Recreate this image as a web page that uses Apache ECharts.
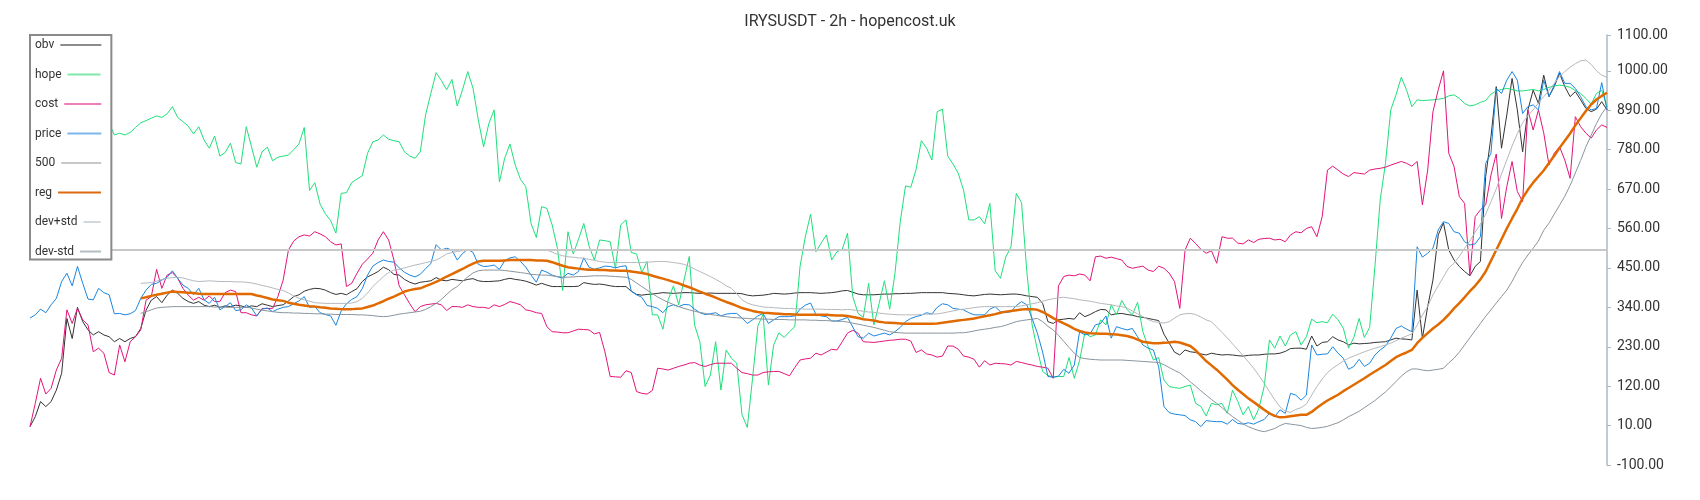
<!DOCTYPE html>
<html><head><meta charset="utf-8">
<script src="https://cdn.jsdelivr.net/npm/echarts@6/dist/echarts.min.js"></script>
<style>html,body{margin:0;padding:0;background:#fff}#c{width:1700px;height:500px}</style>
</head><body><div id="c"></div>
<script>
const titleText = 'IRYSUSDT - 2h - hopencost.uk';
const seriesNames = ['obv', 'hope', 'cost', 'price', '500', 'reg', 'dev+std', 'dev-std'];
const refLevel = 500;
const yMin = -100, yMax = 1100, yStep = 110;

const obv = [
7,35,77,63,77,109,156,309,253,340,
300,277,263,272,263,258,244,253,244,253,
258,281,332,360,370,353,374,388,379,365,
356,351,356,346,342,346,340,344,342,346,
344,340,344,342,350,346,342,345,347,358,
370,375,385,390,393,392,388,381,376,379,
375,384,392,412,425,432,440,452,445,432,
430,418,410,405,410,412,414,423,416,414,
418,416,414,418,420,414,412,412,413,414,
418,421,418,416,413,408,402,407,402,398,
398,398,398,398,399,409,406,404,405,403,
400,398,398,398,385,376,374,376,377,379,
381,380,379,380,381,381,380,379,379,380,
379,379,379,379,379,378,374,372,373,374,
376,379,378,377,378,380,381,381,381,380,
379,380,381,383,386,387,382,377,375,375,
375,376,377,377,378,378,379,379,380,381,
381,381,381,381,379,378,377,375,373,372,
374,376,377,376,375,376,377,377,375,372,
370,368,351,300,295,305,307,309,307,325,
314,320,328,334,333,319,322,323,320,318,
314,312,309,306,303,265,240,215,207,221,
216,214,210,207,212,209,207,208,207,205,
204,206,207,207,209,210,210,212,217,225,
226,226,223,260,232,242,244,258,249,244,
235,240,238,239,240,242,243,244,249,254,
252,251,249,388,254,342,416,542,576,500,
472,454,440,428,454,468,705,816,956,784,
877,979,891,774,891,946,909,988,928,956,
993,956,928,942,919,895,886,893,914,891];

const hope = [
838,845,852,848,858,865,860,872,866,870,
862,868,874,866,860,854,821,826,821,828,
842,855,861,868,874,870,880,900,870,858,
846,824,844,807,784,818,762,772,798,744,
740,844,788,731,774,787,749,759,762,765,
780,796,842,666,688,628,601,582,547,658,
660,688,698,707,770,802,807,821,809,805,
802,774,762,756,774,877,937,995,973,947,
976,902,947,998,951,863,788,853,891,690,
756,796,737,697,677,574,535,621,616,570,
505,387,551,489,530,574,511,472,528,526,
523,449,570,584,493,489,437,468,319,319,
279,361,400,347,416,482,291,244,119,151,
244,109,221,198,184,40,5,142,288,321,
123,235,269,256,272,286,454,537,600,495,
519,542,472,495,502,547,370,323,312,407,
291,351,414,335,435,579,679,675,725,805,
784,751,886,893,762,740,714,667,584,584,
593,573,630,442,421,480,509,658,632,440,
291,221,161,150,145,147,147,200,142,191,
269,258,263,305,291,347,319,359,334,319,
354,272,230,193,200,137,119,116,114,119,
123,72,63,37,72,68,72,44,109,77,
40,63,26,58,119,249,226,260,232,263,
272,235,258,307,297,300,297,321,305,282,
226,256,309,256,284,454,640,742,891,933,
982,946,900,919,917,918,919,921,923,930,
933,923,909,902,905,912,917,935,944,948,
951,948,944,944,946,948,944,948,954,958,
960,958,954,945,937,923,907,937,946,900];

const cost = [
7,72,142,98,114,165,198,333,295,337,
305,291,216,226,212,158,151,235,188,244,
258,277,360,370,446,393,430,437,421,393,
374,360,368,360,372,356,356,381,388,384,
325,325,319,316,337,337,337,370,416,500,
525,537,542,539,551,545,537,523,514,517,
398,407,435,460,475,491,528,551,528,472,
400,375,350,328,342,347,349,351,347,331,
342,342,340,347,342,340,340,337,347,342,
348,356,352,347,333,330,325,323,286,272,
271,269,269,274,279,278,277,266,270,216,
147,146,145,163,158,105,100,98,108,170,
168,165,170,175,179,184,186,179,175,180,
184,184,184,184,170,158,155,151,151,158,
160,161,161,155,149,172,193,196,198,212,
207,215,223,221,244,268,276,268,244,243,
242,244,246,248,249,251,251,246,214,221,
210,207,201,204,232,232,223,204,201,195,
173,191,179,184,183,182,179,189,186,182,
179,175,173,170,142,400,426,430,428,433,
430,414,481,483,477,480,476,472,454,449,
452,455,444,440,455,449,435,412,337,500,
533,518,502,491,498,463,537,533,533,519,
517,528,521,530,532,533,528,530,523,542,
551,548,560,565,537,593,723,734,723,712,
705,716,714,712,723,726,728,731,737,742,
747,742,734,747,626,723,886,947,1000,770,
733,649,630,430,593,612,626,709,768,588,
677,747,663,635,891,835,891,827,737,770,
788,751,700,872,844,826,812,835,849,842];

const price = [
310,319,335,325,347,365,412,435,400,454,
407,363,361,393,381,375,322,323,319,322,
331,365,388,404,407,416,424,442,421,402,
393,375,393,361,351,368,333,342,353,331,
333,347,338,316,335,338,328,335,340,342,
350,358,370,340,342,325,320,316,290,330,
350,362,370,392,430,455,465,472,468,466,
450,438,430,425,432,448,462,515,500,505,
500,472,490,502,493,460,454,455,458,446,
470,478,481,468,452,430,410,444,438,430,
425,422,435,430,440,478,452,446,450,455,
454,450,454,456,385,375,368,345,342,337,
325,342,347,342,348,347,335,325,320,322,
325,316,321,323,323,310,295,305,316,323,
295,305,314,314,314,316,335,346,352,320,
316,314,302,302,306,312,285,258,254,268,
260,264,268,263,272,284,300,309,314,318,
325,321,340,350,347,337,335,333,325,319,
319,319,335,342,328,325,328,345,356,347,
309,268,215,147,145,148,167,156,179,272,
263,266,291,295,316,254,286,281,277,281,
258,235,226,221,174,63,46,42,40,38,
26,21,7,24,22,21,21,14,27,16,
14,18,14,21,27,44,35,54,44,100,
95,81,95,235,207,209,210,230,212,198,
167,175,195,175,184,207,221,232,254,281,
288,279,272,509,480,491,505,556,579,574,
551,547,523,514,517,537,742,770,951,937,
974,998,974,881,900,905,891,974,928,960,
998,965,965,951,928,900,891,895,967,891];

const reg = [
null,null,null,null,null,null,null,null,null,null,
null,null,null,null,null,null,null,null,null,null,
null,365,368,372,375,378,381,384,383,382,
381,380,378,377,377,377,377,377,377,377,
377,377,377,373,370,366,362,360,358,353,
350,347,345,343,342,340,339,337,336,335,
335,335,336,337,341,345,351,357,364,370,
377,384,388,391,393,399,405,411,418,426,
433,440,447,455,462,468,470,470,470,470,
471,472,472,472,472,472,471,471,470,466,
461,456,452,450,448,446,445,445,444,444,
443,443,442,442,440,438,436,433,428,424,
420,416,411,407,401,396,390,384,378,373,
367,361,355,350,344,338,334,330,327,325,
324,323,322,321,321,320,319,319,319,319,
319,319,318,317,317,316,313,310,307,305,
303,300,298,297,296,295,294,294,294,294,
294,294,295,297,299,301,303,305,307,309,
312,315,318,321,325,328,330,332,334,335,
335,333,327,319,310,302,295,288,280,274,
270,268,267,266,266,265,264,262,260,256,
250,244,242,240,240,241,242,244,242,237,
232,220,205,190,178,166,152,138,123,110,
98,86,76,65,54,44,37,33,34,36,
38,40,40,48,60,70,80,88,96,106,
115,124,133,142,152,161,170,179,190,201,
208,214,221,240,255,268,281,292,305,320,
337,352,368,385,400,418,440,470,500,530,
560,588,615,645,668,688,705,722,743,763,
785,805,825,848,868,888,906,920,930,939];

const devPlus = [
null,null,null,null,null,null,null,null,null,null,
null,null,null,null,null,null,null,null,null,null,
null,407,408,409,413,418,421,423,424,422,
418,414,412,413,414,413,412,412,412,411,
411,410,408,405,401,398,394,390,387,380,
372,365,361,357,353,352,351,351,351,351,
351,352,356,365,380,398,412,426,437,444,
446,450,454,458,461,465,468,472,480,489,
493,496,498,499,500,500,500,500,500,500,
500,500,501,501,501,501,500,500,500,494,
488,484,481,480,478,477,474,471,468,466,
465,465,465,465,465,465,465,466,467,468,
468,467,465,463,460,454,447,440,433,426,
418,410,400,393,378,361,352,347,344,341,
340,339,338,337,337,336,336,335,335,335,
335,334,334,334,333,334,333,331,329,327,
326,324,322,321,320,319,319,319,319,320,
321,321,322,324,327,330,333,335,337,339,
341,342,342,342,342,342,342,342,344,347,
350,353,357,361,364,367,368,366,364,361,
359,357,354,351,349,347,344,342,338,330,
322,314,306,300,298,296,300,310,319,322,
323,320,313,305,300,285,270,255,238,222,
205,188,170,150,128,105,82,62,50,47,
55,60,70,95,119,140,158,170,180,190,
198,204,210,216,221,226,230,235,240,247,
254,260,266,290,318,342,375,400,425,450,
463,482,505,525,550,572,600,635,670,712,
751,790,825,855,875,891,910,928,945,965,
984,998,1010,1020,1028,1030,1018,1000,988,982];

const devMinus = [
null,null,null,null,null,null,null,null,null,null,
null,null,null,null,null,null,null,null,null,null,
null,323,328,333,338,340,341,342,342,342,
342,342,342,342,342,341,341,340,340,340,
340,340,338,335,332,330,328,326,325,325,
324,324,323,323,322,322,321,321,320,320,
320,320,319,319,318,317,315,314,315,318,
321,323,325,327,329,334,342,351,362,376,
389,398,412,425,436,442,444,444,444,444,
443,441,439,437,435,432,431,430,430,428,
426,424,424,425,426,426,427,428,428,428,
427,426,425,424,418,408,398,388,378,369,
361,354,348,342,337,333,329,326,323,320,
318,316,314,312,311,310,309,308,308,307,
307,306,306,306,305,305,305,305,304,304,
303,303,302,301,301,299,296,293,290,287,
284,280,276,272,270,269,268,268,268,268,
268,268,268,268,268,268,269,269,271,274,
277,279,281,284,286,290,295,300,303,305,
307,309,300,287,277,262,245,228,212,200,
197,195,194,193,193,193,193,193,192,191,
190,189,188,187,186,180,172,164,157,145,
132,120,107,95,83,72,60,47,35,25,
15,7,1,-4,-7,-3,2,10,16,14,
12,10,5,2,3,5,8,13,18,26,
35,42,50,60,70,80,92,104,118,133,
148,160,168,168,165,163,165,167,170,185,
198,215,235,255,275,295,315,333,352,370,
388,412,440,465,486,505,525,555,575,600,
625,650,680,715,750,788,820,853,880,900];

const categories = price.map((_, i) => String(i));

// styling
const lineColors = {
  'obv': '#333333', 'hope': '#1ee07a', 'cost': '#e3147a', 'price': '#1a86e0',
  '500': '#c8c8c8', 'reg': '#e06a00', 'dev+std': '#b4b9be', 'dev-std': '#8a959d'
};
const legendIconColors = {
  'obv': '#8c8c8c', 'hope': '#7fe9a8', 'cost': '#ee80b8', 'price': '#7db7ec',
  '500': '#c8c8c8', 'reg': '#db6a12', 'dev+std': '#d2d7db', 'dev-std': '#b2bcc1'
};
const legendFont = '12px Roboto';
const measureCtx = document.createElement('canvas').getContext('2d');
measureCtx.font = legendFont;
const legendRowWidth = 66, legendGap = 6;
const rich = { g: { width: legendGap, height: 2 } };
seriesNames.forEach((n, i) => {
  const w = Math.max(10, Math.round(legendRowWidth - legendGap - measureCtx.measureText(n).width));
  rich['l' + i] = { width: w, height: 2, backgroundColor: legendIconColors[n], verticalAlign: 'middle' };
});

function line(name, data, width, z) {
  return {
    name, type: 'line', data, symbol: 'none', showSymbol: false, z: z || 2,
    lineStyle: { color: lineColors[name], width },
    itemStyle: { color: lineColors[name] },
    emphasis: { disabled: true }, silent: true, animation: false
  };
}

const chart = echarts.init(document.getElementById('c'), null, { renderer: 'canvas' });
chart.setOption({
  backgroundColor: '#ffffff',
  animation: false,
  title: {
    text: titleText, left: 'center', top: 9,
    textStyle: { fontFamily: 'Roboto', fontSize: 16, fontWeight: 'normal', color: '#333' }
  },
  legend: {
    orient: 'vertical', left: 30, top: 35, align: 'left',
    icon: 'none', itemWidth: 0, itemHeight: 14, itemGap: 16.5,
    padding: [3, 10, 2, 0],
    backgroundColor: '#ffffff', borderColor: '#8a8a8a', borderWidth: 2, borderRadius: 0,
    selectedMode: false,
    textStyle: { fontFamily: 'Roboto', fontSize: 12, color: '#333', rich },
    formatter: n => n + '{g|}{l' + seriesNames.indexOf(n) + '|}',
    data: seriesNames, z: 10
  },
  grid: { left: 30, right: 93, top: 35, bottom: 35, containLabel: false },
  xAxis: { type: 'category', data: categories, boundaryGap: false, show: false },
  yAxis: {
    type: 'value', position: 'right', min: yMin, max: yMax, interval: yStep,
    splitLine: { show: false },
    axisLine: { show: true, lineStyle: { color: '#adb8c1', width: 1.5 } },
    axisTick: { show: true, length: 4, lineStyle: { color: '#adb8c1' } },
    axisLabel: { formatter: v => v.toFixed(2), fontFamily: 'Roboto', fontSize: 14, color: '#333', margin: 10 }
  },
  series: [
    line('obv', obv, 1),
    line('hope', hope, 1),
    line('cost', cost, 1),
    line('price', price, 1),
    {
      name: '500', type: 'line', data: [], symbol: 'none', silent: true, z: 1,
      lineStyle: { color: lineColors['500'], width: 2 }, itemStyle: { color: lineColors['500'] },
      markLine: {
        silent: true, symbol: 'none', animation: false, label: { show: false },
        lineStyle: { color: lineColors['500'], width: 2, type: 'solid' },
        data: [{ yAxis: refLevel }]
      }
    },
    line('reg', reg, 2.5, 3),
    line('dev+std', devPlus, 1),
    line('dev-std', devMinus, 1)
  ]
});
</script></body></html>
